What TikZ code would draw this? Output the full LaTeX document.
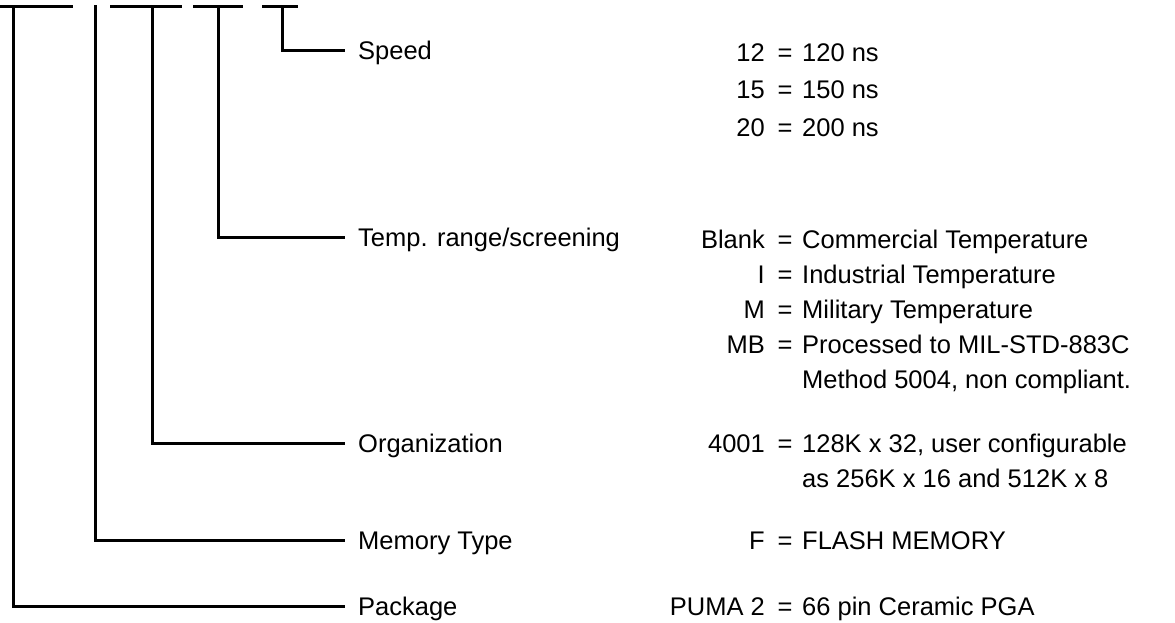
\documentclass[tikz,border=0pt]{standalone}
\usepackage{fontspec}
\setmainfont{Liberation Sans}
\usetikzlibrary{positioning}

\begin{document}
\begin{tikzpicture}[x=1pt, y=-1pt,
  field/.style={anchor=west, inner xsep=13pt, inner ysep=0pt, text height=18pt, text depth=0pt, font=\fontsize{25.5}{30}\selectfont},
  code/.style={anchor=east, inner sep=0pt, text height=18pt, text depth=0pt, font=\fontsize{25.5}{30}\selectfont},
  eqsign/.style={anchor=center, inner sep=0pt, text height=18pt, text depth=0pt, font=\fontsize{25.5}{30}\selectfont},
  meaning/.style={anchor=west, inner sep=0pt, text height=18pt, text depth=0pt, font=\fontsize{25.5}{30}\selectfont},
  lead/.style={line width=3pt}
]
\useasboundingbox (0,0) rectangle (1175,623);

% Part number boxes
\coordinate (pkgtop) at (13,7);
\coordinate (memtop) at (95,5.5);
\coordinate (orgtop) at (152,7);
\coordinate (temptop) at (218,7);
\coordinate (speedtop) at (282,7);
\draw[lead] (0,7) -- (73,7);
\draw[lead] (110,7) -- (182,7);
\draw[lead] (193,7) -- (243,7);
\draw[lead] (262,7) -- (298,7);

% Field names
\node[field] (speed) at (345,51) {Speed};
\node[field] (temp) at (345,237) {Temp. range/screening};
\node[field] (org) at (345,443) {Organization};
\node[field] (mem) at (345,540) {Memory Type};
\node[field] (pkg) at (345,606) {Package};

% Leads
\draw[lead] (speedtop) |- (speed.west);
\draw[lead] (temptop) |- (temp.west);
\draw[lead] (orgtop) |- (org.west);
\draw[lead] (memtop) |- (mem.west);
\draw[lead] (pkgtop) |- (pkg.west);

% Speed codes
\node[code] (c12) at (765,53) {12};
\node[eqsign] (e12) at (785,53) {=};
\node[meaning] (m12) at (802,53) {120 ns};
\node[code] (c15) at (765,90) {15};
\node[eqsign] (e15) at (785,90) {=};
\node[meaning] (m15) at (802,90) {150 ns};
\node[code] (c20) at (765,127) {20};
\node[eqsign] (e20) at (785,127) {=};
\node[meaning] (m20) at (802,127) {200 ns};

% Temperature codes
\node[code] (cblank) at (765,239) {Blank};
\node[eqsign] (eblank) at (785,239) {=};
\node[meaning] (mblank) at (802,239) {Commercial Temperature};
\node[code] (ci) at (765,274) {I};
\node[eqsign] (ei) at (785,274) {=};
\node[meaning] (mi) at (802,274) {Industrial Temperature};
\node[code] (cm) at (765,309) {M};
\node[eqsign] (em) at (785,309) {=};
\node[meaning] (mm) at (802,309) {Military Temperature};
\node[code] (cmb) at (765,344) {MB};
\node[eqsign] (emb) at (785,344) {=};
\node[meaning] (mmb) at (802,344) {Processed to MIL-STD-883C};
\node[meaning] (mmb2) at (802,379) {Method 5004, non compliant.};

% Organization code
\node[code] (c4001) at (765,443) {4001};
\node[eqsign] (e4001) at (785,443) {=};
\node[meaning] (m4001) at (802,443) {128K x 32, user configurable};
\node[meaning] (m4001b) at (802,478) {as 256K x 16 and 512K x 8};

% Memory type code
\node[code] (cf) at (765,540) {F};
\node[eqsign] (ef) at (785,540) {=};
\node[meaning] (mf) at (802,540) {FLASH MEMORY};

% Package code
\node[code] (cpuma) at (765,606) {PUMA 2};
\node[eqsign] (epuma) at (785,606) {=};
\node[meaning] (mpuma) at (802,606) {66 pin Ceramic PGA};

\end{tikzpicture}
\end{document}
